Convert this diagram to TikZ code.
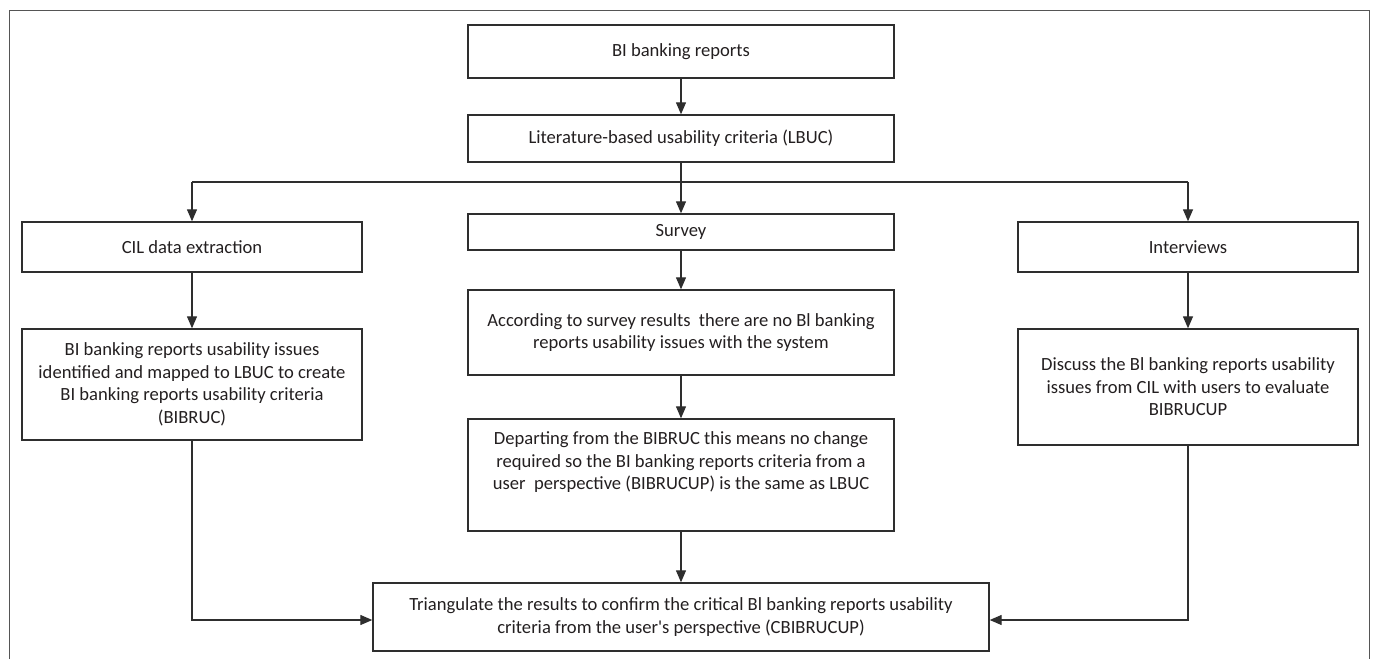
\documentclass[tikz,border=0pt]{standalone}
\usepackage{fontspec}
\setmainfont{Carlito}[Ligatures=TeXOff]
\usetikzlibrary{arrows.meta,positioning}
\definecolor{ink}{HTML}{231F20}
\definecolor{edge}{HTML}{2E2E2E}
\definecolor{framec}{HTML}{555555}
\tikzset{
  boxnode/.style={draw=edge, line width=1.4pt, inner sep=0pt, align=center,
    text=ink, font=\fontsize{18.6}{22.5}\selectfont},
  arr/.style={draw=edge, line width=1.3pt, -{Triangle[length=12pt,width=10pt]}},
  plainline/.style={draw=edge, line width=1.3pt},
}
\begin{document}
\begin{tikzpicture}[x=1pt,y=-1pt]
\useasboundingbox (0,0) rectangle (1376,659);
% outer frame (bottom edge outside the picture)
\draw[framec, line width=1pt] (9,659) -- (9,10.5) -- (1369,10.5) -- (1369,659);

\node[boxnode, minimum width=426pt, minimum height=53pt] (bi) at (681,51.5) {BI banking reports};
\node[boxnode, minimum width=426pt, minimum height=47pt] (lbuc) at (681,138.5) {Literature-based usability criteria (LBUC)};
\node[boxnode, minimum width=426pt, minimum height=36pt] (survey) at (681,232) {Survey};
\node[boxnode, minimum width=340pt, minimum height=50pt] (cil) at (192,247) {CIL data extraction};
\node[boxnode, minimum width=340pt, minimum height=50pt] (interviews) at (1188,247) {Interviews};
\node[boxnode, minimum width=426pt, minimum height=85pt] (results) at (681,332.5)
  {According to survey results\ \ there are no Bl banking\\reports usability issues with the system};
\node[boxnode, minimum width=340pt, minimum height=111pt] (issues) at (192,384.5)
  {BI banking reports usability issues\\identified and mapped to LBUC to create\\BI banking reports usability criteria\\(BIBRUC)};
\node[boxnode, minimum width=340pt, minimum height=116pt] (discuss) at (1188,387)
  {Discuss the Bl banking reports usability\\issues from CIL with users to evaluate\\BIBRUCUP};
\node[boxnode, minimum width=426pt, minimum height=112pt] (departing) at (681,475)
  {Departing from the BIBRUC this means no change\\required so the BI banking reports criteria from a\\user\ \ perspective (BIBRUCUP) is the same as LBUC\\[6pt]\mbox{}};
\node[boxnode, minimum width=616pt, minimum height=68pt] (tri) at (681,617)
  {Triangulate the results to confirm the critical Bl banking reports usability\\criteria from the user's perspective (CBIBRUCUP)};

\coordinate (split) at (681,182);
\coordinate (splitL) at (192,182);
\coordinate (splitR) at (1188,182);

\draw[arr] (bi) -- (lbuc);
\draw[arr] (lbuc) -- (survey);
\draw[plainline] (splitL) -- (splitR);
\draw[arr] (splitL) -- (cil);
\draw[arr] (splitR) -- (interviews);
\draw[arr] (survey) -- (results);
\draw[arr] (cil) -- (issues);
\draw[arr] (interviews) -- (discuss);
\draw[arr] (results) -- (departing);
\draw[arr] (departing) -- (tri);
\draw[arr] (issues.south) |- ([yshift=-3pt]tri.west);
\draw[arr] (discuss.south) |- ([yshift=-3pt]tri.east);
\end{tikzpicture}
\end{document}
